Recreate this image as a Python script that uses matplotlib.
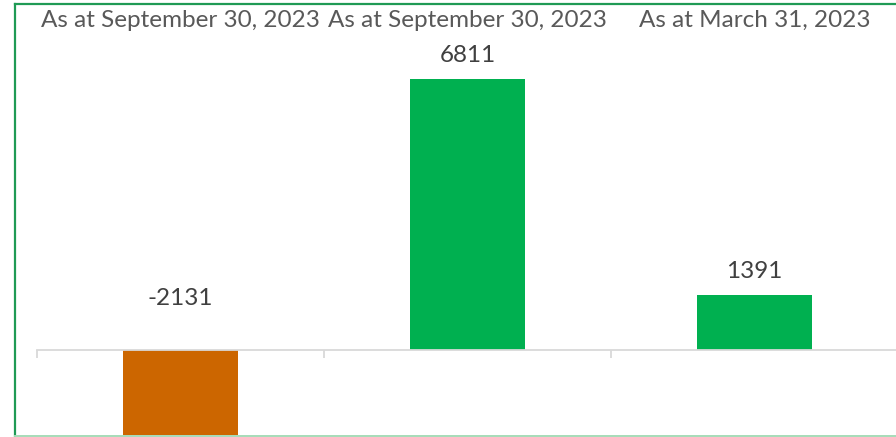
import matplotlib.pyplot as plt
from matplotlib.lines import Line2D

# chart data
categories = ['As at September 30, 2023', 'As at September 30, 2023', 'As at March 31, 2023']
values = [-2131, 6811, 1391]
colors = ['#CC6600', '#00B050', '#00B050']

W, H = 896, 437
fig = plt.figure(figsize=(W / 100, H / 100), dpi=100)
plt.rcParams['font.family'] = ['Lato', 'DejaVu Sans']

# axes placed in pixel terms
left, right = 37, 898
bottom, top = 435, 40
ax = fig.add_axes([left / W, (H - bottom) / H, (right - left) / W, (bottom - top) / H])

x = list(range(len(values)))
ax.bar(x, values, width=0.4, color=colors, zorder=2)
ax.set_xlim(-0.5, 2.5)
ax.set_ylim(-2136, 7790)

for s in ['left', 'right', 'top']:
    ax.spines[s].set_visible(False)
ax.spines['bottom'].set_position(('data', 0))
ax.spines['bottom'].set_color('#d9d9d9')
ax.spines['bottom'].set_linewidth(1.3)
ax.set_yticks([])

ax.set_xticks(x)
ax.set_xticklabels(categories)
ax.set_xticks([-0.5, 0.5, 1.5, 2.5], minor=True)
ax.tick_params(axis='x', which='major', bottom=False, top=False,
               labelbottom=False, labeltop=True, labelsize=17.5,
               labelcolor='#595959', pad=3)
ax.tick_params(axis='x', which='minor', bottom=True, top=False,
               direction='out', length=6, width=1.3, color='#d9d9d9')

# value labels
for i, v in enumerate(values):
    if v >= 0:
        ax.annotate(str(v), xy=(i, v), xytext=(0, 17), textcoords='offset points',
                    ha='center', va='center', fontsize=17.5, color='#404040')
    else:
        ax.annotate(str(v), xy=(i, 0), xytext=(0, 37), textcoords='offset points',
                    ha='center', va='center', fontsize=17.5, color='#404040')

# chart border (green)
fig.add_artist(Line2D([14.5 / W, 14.5 / W], [1 - 3.5 / H, 1 - 436 / H],
                      color='#1f9a55', lw=1.6, transform=fig.transFigure))
fig.add_artist(Line2D([14.5 / W, 1.0], [1 - 3.5 / H, 1 - 3.5 / H],
                      color='#1f9a55', lw=1.6, transform=fig.transFigure))
fig.add_artist(Line2D([14.5 / W, 1.0], [1 - 436 / H, 1 - 436 / H],
                      color='#a6dcb8', lw=1.4, transform=fig.transFigure))

fig.savefig('out.png', dpi=100)
